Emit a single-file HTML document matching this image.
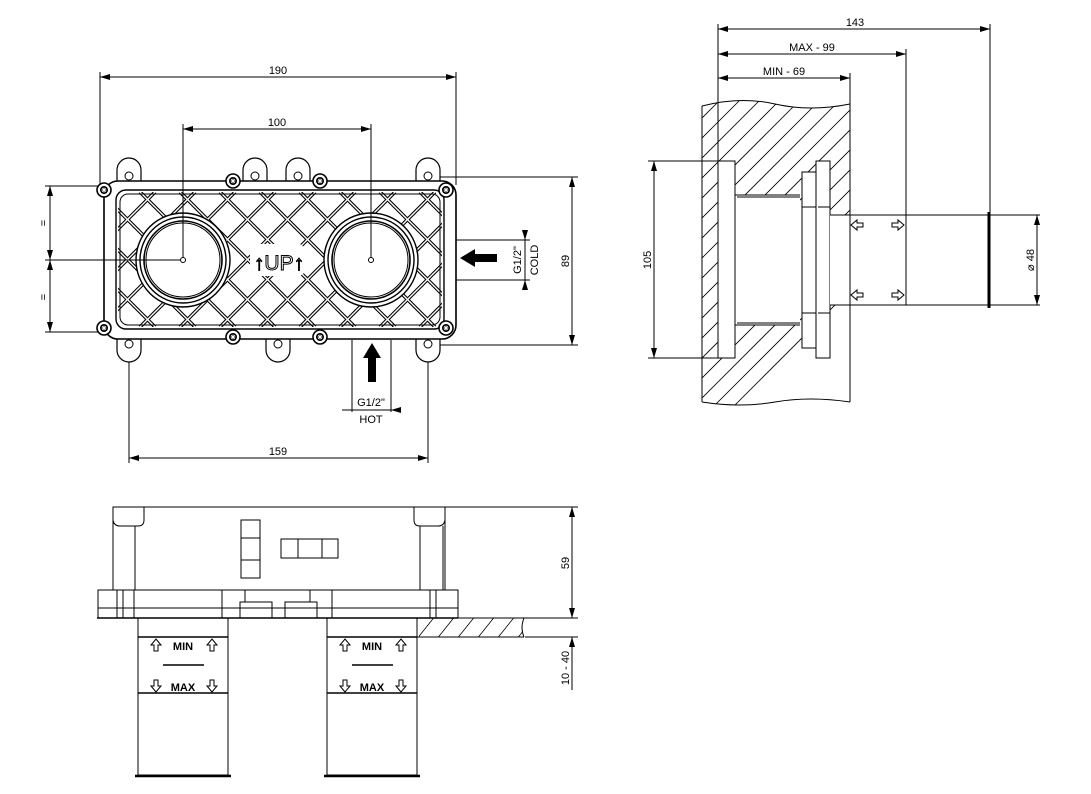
<!DOCTYPE html>
<html><head><meta charset="utf-8"><style>
html,body{margin:0;padding:0;background:#fff}
svg{display:block}
text{font-family:"Liberation Sans",sans-serif;font-size:11px;fill:#000}
</style></head><body>
<svg width="1091" height="794" viewBox="0 0 1091 794" xmlns="http://www.w3.org/2000/svg">
<defs>
<marker id="a" viewBox="0 0 10 6" refX="10" refY="3" markerWidth="10" markerHeight="6" orient="auto-start-reverse"><path d="M0,0L10,3L0,6z" fill="#000"/></marker>
<clipPath id="grid"><rect x="118" y="192" width="324" height="135" rx="8"/></clipPath>
<clipPath id="wall"><path d="M702,106 Q740,96 775,104 T850,104 L850,402 Q810,396 775,402 T702,402Z"/></clipPath>
<clipPath id="floor"><rect x="419" y="618" width="104" height="19"/></clipPath>
<g id="scr"><circle r="7" fill="#fff" stroke="#000" stroke-width="1.6"/><circle r="4" fill="#000"/><path d="M-2.5,0H2.5M0,-2.5V2.5M-1.8,-1.8L1.8,1.8M-1.8,1.8L1.8,-1.8" stroke="#fff" stroke-width="0.8"/></g>
<g id="ear"><path d="M-12,12 V-6 A12,12 0 0 1 12,-6 V12" fill="#fff" stroke="#000" stroke-width="1.2"/><circle r="4" fill="#fff" stroke="#000"/></g>
<path id="up" d="M0,-6L5,0H2V6H-2V0H-5Z" fill="#fff" stroke="#000" stroke-width="1"/>
</defs>
<g stroke="#000" fill="none" stroke-width="1">
<line x1="100" y1="72" x2="100" y2="185"/><line x1="456" y1="72" x2="456" y2="185"/>
<line x1="100" y1="77" x2="456" y2="77" marker-start="url(#a)" marker-end="url(#a)"/>
<line x1="183" y1="124" x2="183" y2="260"/><line x1="371" y1="124" x2="371" y2="260"/>
<line x1="183" y1="129" x2="371" y2="129" marker-start="url(#a)" marker-end="url(#a)"/>
<line x1="129" y1="345" x2="129" y2="463"/><line x1="428" y1="345" x2="428" y2="463"/>
<line x1="129" y1="458" x2="428" y2="458" marker-start="url(#a)" marker-end="url(#a)"/>
<line x1="430" y1="177" x2="578" y2="177"/><line x1="430" y1="345" x2="578" y2="345"/>
<line x1="572" y1="177" x2="572" y2="345" marker-start="url(#a)" marker-end="url(#a)"/>
<line x1="45" y1="186" x2="105" y2="186"/><line x1="45" y1="332" x2="105" y2="332"/><line x1="45" y1="260" x2="183" y2="260"/>
<line x1="50" y1="186" x2="50" y2="260" marker-start="url(#a)" marker-end="url(#a)"/>
<line x1="50" y1="260" x2="50" y2="332" marker-start="url(#a)" marker-end="url(#a)"/>
<line x1="452" y1="240" x2="530" y2="240"/><line x1="452" y1="280" x2="530" y2="280"/>
<line x1="525" y1="230" x2="525" y2="240" marker-end="url(#a)"/><line x1="525" y1="290" x2="525" y2="280" marker-end="url(#a)"/>
<line x1="525" y1="240" x2="525" y2="280"/>
<line x1="352" y1="340" x2="352" y2="412"/><line x1="391" y1="340" x2="391" y2="412"/>
<line x1="352" y1="410" x2="391" y2="410"/>
<path d="M342,410H352M401,410H391" marker-end="url(#a)"/>
<use href="#ear" x="129" y="176"/><use href="#ear" x="428" y="176"/>
<use href="#ear" x="255" y="176"/><use href="#ear" x="298" y="176"/>
<g transform="rotate(180 129 344)"><use href="#ear" x="129" y="344"/></g>
<g transform="rotate(180 428 344)"><use href="#ear" x="428" y="344"/></g>
<g transform="rotate(180 278 344)"><use href="#ear" x="278" y="344"/></g>
<rect x="104" y="181" width="352" height="158" rx="14" fill="#fff" stroke-width="1.6"/>
<rect x="116" y="190" width="328" height="139" rx="10" stroke-width="1.4"/>
<g clip-path="url(#grid)">
<g id="lat">
<path d="M60,192L195,327M100,192L235,327M140,192L275,327M180,192L315,327M220,192L355,327M260,192L395,327M300,192L435,327M340,192L475,327M380,192L515,327M20,192L155,327M420,192L555,327M-20,192L115,327"/>
<path d="M195,192L60,327M235,192L100,327M275,192L140,327M315,192L180,327M355,192L220,327M395,192L260,327M435,192L300,327M475,192L340,327M515,192L380,327M155,192L20,327M555,192L420,327"/>
</g>
</g>
<g clip-path="url(#grid)" stroke-width="3.6"><use href="#lat"/></g>
<g clip-path="url(#grid)" stroke="#fff" stroke-width="1.4"><use href="#lat"/></g>
<rect x="120" y="194" width="320" height="131" rx="8" stroke-width="1"/>
<circle cx="183" cy="260" r="47" fill="#fff" stroke-width="1.4"/><circle cx="183" cy="260" r="43" stroke-width="1.4"/><circle cx="183" cy="260" r="39" stroke-width="1.6"/><circle cx="183" cy="260" r="37"/>
<circle cx="371" cy="260" r="47" fill="#fff" stroke-width="1.4"/><circle cx="371" cy="260" r="43" stroke-width="1.4"/><circle cx="371" cy="260" r="39" stroke-width="1.6"/><circle cx="371" cy="260" r="37"/>
<circle cx="183" cy="260" r="2.5"/><circle cx="371" cy="260" r="2.5"/>
<line x1="183" y1="129" x2="183" y2="257"/><line x1="371" y1="129" x2="371" y2="257"/><line x1="45" y1="260" x2="180" y2="260"/>
<path d="M250,250L258,244H300L308,250V270L300,276H258L250,270Z" fill="#fff" stroke="none"/>
</g>
<use href="#scr" x="104" y="190"/><use href="#scr" x="446" y="190"/><use href="#scr" x="104" y="328"/><use href="#scr" x="446" y="328"/>
<use href="#scr" x="233" y="181"/><use href="#scr" x="320" y="181"/><use href="#scr" x="233" y="337"/><use href="#scr" x="320" y="337"/>
<text x="279" y="270" text-anchor="middle" style="font-size:21px;fill:#fff;stroke:#000;stroke-width:1">↑UP↑</text>
<path d="M460,258L475,249V254H497V262H475V267Z"/>
<path d="M372,343L363,358H368V382H376V358H381Z"/>
<text x="278" y="74" text-anchor="middle">190</text>
<text x="277" y="126" text-anchor="middle">100</text>
<text x="278" y="455" text-anchor="middle">159</text>
<text x="371" y="406" text-anchor="middle">G1/2"</text>
<text x="371" y="423" text-anchor="middle">HOT</text>
<text transform="translate(521,260) rotate(-90)" text-anchor="middle">G1/2"</text>
<text transform="translate(538,260) rotate(-90)" text-anchor="middle">COLD</text>
<text transform="translate(569,261) rotate(-90)" text-anchor="middle">89</text>
<text transform="translate(47,223) rotate(-90)" text-anchor="middle">=</text>
<text transform="translate(47,297) rotate(-90)" text-anchor="middle">=</text>

<g stroke="#000" fill="none" stroke-width="1">
<g clip-path="url(#wall)" stroke-width="0.8">
<path d="M560,420L900,80M580,420L920,80M600,420L940,80M620,420L960,80M640,420L980,80M660,420L1000,80M680,420L1020,80M700,420L1040,80M720,420L1060,80M540,420L880,80M520,420L860,80M500,420L840,80M480,420L820,80M460,420L800,80M440,420L780,80M420,420L760,80M400,420L740,80M380,420L720,80M360,420L700,80"/>
</g>
<path d="M702,106 Q740,96 775,104 T850,104 M850,402 Q810,396 775,402 T702,402 M702,106V402M850,104V215M850,305V402"/>
<path d="M735,195H800V325H735Z" fill="#fff" stroke="none"/>
<path d="M850,215H800V305H850Z" fill="#fff" stroke="none"/>
<rect x="718" y="161" width="17" height="197" fill="#fff"/>
<path d="M735,195H800M735,325H800M737,197H800M737,323H800"/>
<rect x="802" y="172" width="14" height="176" fill="#fff"/>
<rect x="816" y="161" width="14" height="197" fill="#fff"/>
<path d="M802,207H816M802,313H816M830,207H818M830,313H818"/>
<rect x="830" y="215" width="20" height="90" fill="#fff" stroke="none"/>
<path d="M830,215H1040M830,305H1040M850,215V305M906,215V305"/>
<line x1="989" y1="212" x2="989" y2="308" stroke-width="3"/>
<line x1="718" y1="24" x2="718" y2="161"/><line x1="990" y1="24" x2="990" y2="212"/>
<line x1="906" y1="49" x2="906" y2="215"/><line x1="850" y1="73" x2="850" y2="104"/>
<line x1="718" y1="29" x2="990" y2="29" marker-start="url(#a)" marker-end="url(#a)"/>
<line x1="718" y1="54" x2="906" y2="54" marker-start="url(#a)" marker-end="url(#a)"/>
<line x1="718" y1="78" x2="850" y2="78" marker-start="url(#a)" marker-end="url(#a)"/>
<line x1="648" y1="161" x2="718" y2="161"/><line x1="648" y1="358" x2="718" y2="358"/>
<line x1="654" y1="161" x2="654" y2="358" marker-start="url(#a)" marker-end="url(#a)"/>
<line x1="1037" y1="215" x2="1037" y2="305" marker-start="url(#a)" marker-end="url(#a)"/>
</g>
<text x="855" y="26" text-anchor="middle">143</text>
<text x="812" y="51" text-anchor="middle">MAX - 99</text>
<text x="784" y="75" text-anchor="middle">MIN - 69</text>
<text transform="translate(651,260) rotate(-90)" text-anchor="middle">105</text>
<text transform="translate(1034,260) rotate(-90)" text-anchor="middle">⌀ 48</text>
<use href="#up" transform="translate(857,225) rotate(-90)"/><use href="#up" transform="translate(898,225) rotate(90)"/>
<use href="#up" transform="translate(857,295) rotate(-90)"/><use href="#up" transform="translate(898,295) rotate(90)"/>

<g stroke="#000" fill="none" stroke-width="1">
<rect x="113" y="507" width="332" height="83" fill="#fff"/>
<path d="M113,520 Q114,526 120,526 H138 Q144,526 144,520 V507 M445,520 Q444,526 438,526 H420 Q414,526 414,520 V507 M135,526V590M420,526V590M443,526V590"/>
<rect x="241" y="520" width="19" height="58"/><path d="M241,538H260M241,560H260"/>
<rect x="281" y="539" width="57" height="19"/><path d="M298,539V558M322,539V558"/>
<rect x="98" y="590" width="360" height="28" fill="#fff"/>
<path d="M98,608H458M117,590V618M123,590V618M134,590V618M222,590V618M332,590V618M430,590V618M436,590V618"/>
<rect x="240" y="602" width="32" height="16"/><rect x="285" y="602" width="32" height="16"/>
<path d="M245,590V602M310,590V602"/>
<line x1="97" y1="618" x2="458" y2="618" stroke-width="1.6"/>
<rect x="138" y="618" width="90" height="157"/><rect x="327" y="618" width="90" height="157"/>
<path d="M138,637H228M138,693H228M327,637H417M327,693H417" stroke-width="1.6"/>
<path d="M163,665H204M352,665H393" stroke-width="1.4"/>
<line x1="135" y1="776" x2="231" y2="776" stroke-width="2.5"/><line x1="324" y1="776" x2="420" y2="776" stroke-width="2.5"/>
<g clip-path="url(#floor)" stroke-width="0.8"><path d="M400,660L440,610M420,660L460,610M440,660L480,610M460,660L500,610M480,660L520,610M500,660L540,610"/></g>
<path d="M417,637H524M524,618Q520,628 524,637M525,637H578M445,507H578"/>
<line x1="572" y1="507" x2="572" y2="618" marker-start="url(#a)" marker-end="url(#a)"/>
<line x1="572" y1="637" x2="572" y2="690"/>
<path d="M572,602V618M572,652V637" marker-end="url(#a)"/>
<line x1="458" y1="618" x2="578" y2="618"/>
</g>
<g style="font-weight:bold;font-size:13px">
<text x="183" y="650" text-anchor="middle">MIN</text><text x="183" y="691" text-anchor="middle">MAX</text>
<text x="372" y="650" text-anchor="middle">MIN</text><text x="372" y="691" text-anchor="middle">MAX</text>
</g>
<use href="#up" x="156" y="645"/><use href="#up" x="212" y="645"/>
<use href="#up" x="345" y="645"/><use href="#up" x="401" y="645"/>
<use href="#up" transform="translate(156,686) rotate(180)"/><use href="#up" transform="translate(212,686) rotate(180)"/>
<use href="#up" transform="translate(345,686) rotate(180)"/><use href="#up" transform="translate(401,686) rotate(180)"/>
<text transform="translate(569,563) rotate(-90)" text-anchor="middle">59</text>
<text transform="translate(569,668) rotate(-90)" text-anchor="middle">10 - 40</text>
</svg>
</body></html>
